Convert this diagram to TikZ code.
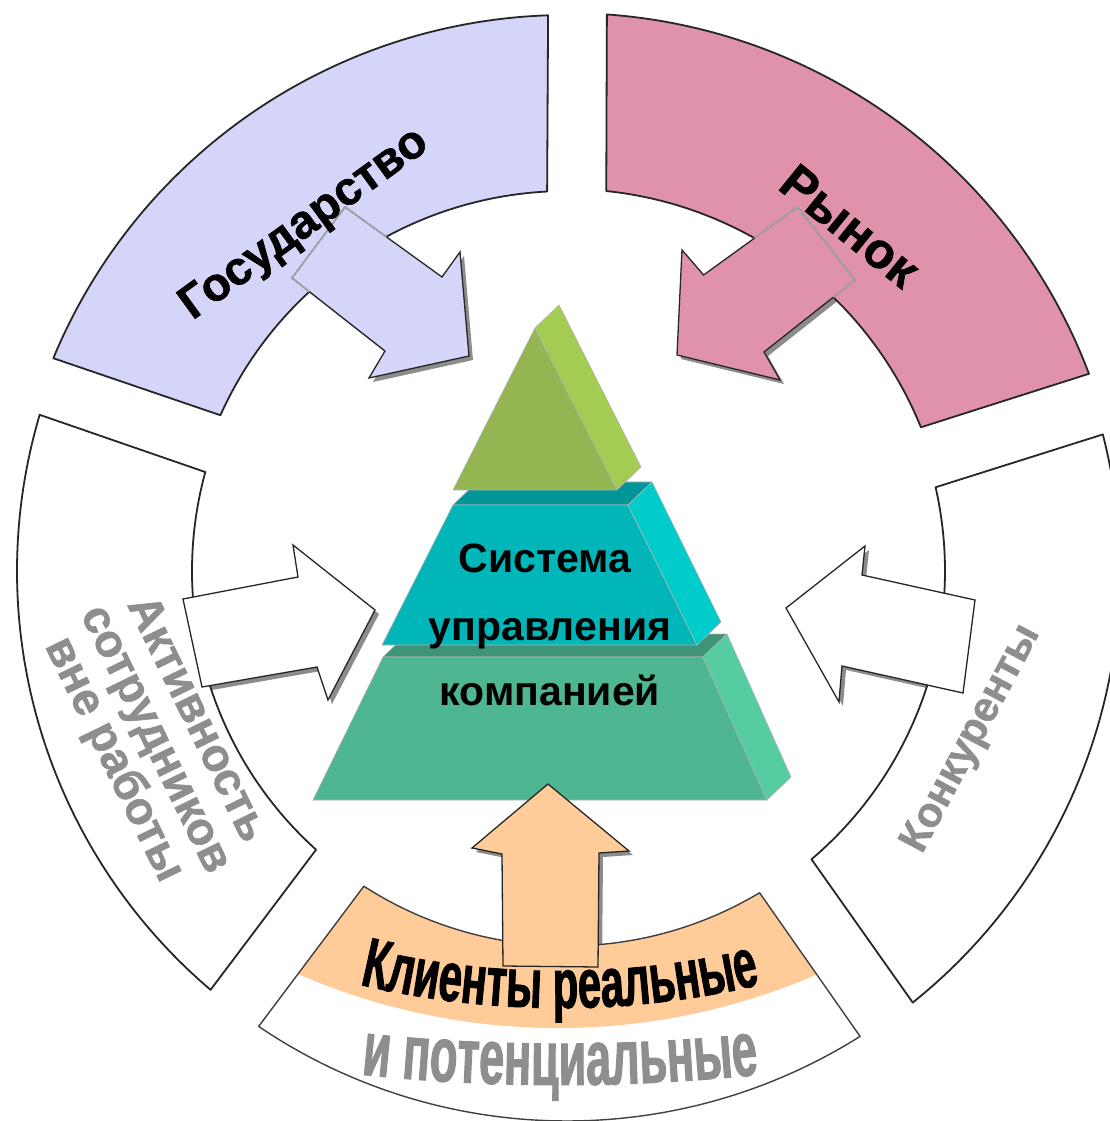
\documentclass[tikz,border=0pt]{standalone}
\usepackage{fontspec}
\usetikzlibrary{decorations.text}
\newfontfamily\lsans{Liberation Sans}
\newfontfamily\lheavy[FakeBold=1.2]{Liberation Sans}
\newfontfamily\narrowone[FakeStretch=0.6,FakeBold=1.2]{Liberation Sans}
\newfontfamily\narrowtwo[FakeStretch=0.58,FakeBold=1.2]{Liberation Sans}
\definecolor{lav}{RGB}{213,213,250}
\definecolor{pinkc}{RGB}{224,146,171}
\definecolor{peach}{RGB}{255,204,153}
\definecolor{txtgray}{RGB}{142,142,142}
\definecolor{shadowc}{RGB}{140,140,140}
\definecolor{gAf}{RGB}{147,182,82}
\definecolor{gAs}{RGB}{163,204,82}
\definecolor{tBf}{RGB}{0,182,185}
\definecolor{tBs}{RGB}{0,204,204}
\definecolor{tBt}{RGB}{0,150,152}
\definecolor{tCf}{RGB}{78,182,145}
\definecolor{tCs}{RGB}{86,205,160}
\definecolor{tCt}{RGB}{62,148,118}
% ring segments
\def\segLav{(91.95:556) arc[start angle=91.95,end angle=157.5,radius=556] -- (155.8:380) arc[start angle=155.8,end angle=93,radius=380] -- cycle}
\def\segPink{(85.9:558) arc[start angle=85.9,end angle=20.7,radius=558] -- (22.1:382) arc[start angle=22.1,end angle=84.1,radius=382] -- cycle}
\def\segKonk{(14.3:553) arc[start angle=14.3,end angle=-51.3,radius=553] -- (-49.7:378) arc[start angle=-49.7,end angle=12.8,radius=378] -- cycle}
\def\segAkt{(163.5:550) arc[start angle=163.5,end angle=229.6,radius=550] -- (228:375) arc[start angle=228,end angle=164.7,radius=375] -- cycle}
\def\segKl{(235.9:550) arc[start angle=235.9,end angle=302.2,radius=550] -- (300.9:375) arc[start angle=300.9,end angle=237.2,radius=375] -- cycle}
% block arrows
\def\arrLav{(-222,364) -- (-125,294) -- (-107,319) -- (-98,215) -- (-198,193) -- (-182,220) -- (-275,293) -- cycle}
\def\arrPink{(230.5,364) -- (136.6,296) -- (115,321) -- (110,216) -- (213,191) -- (197,219) -- (288,291) -- cycle}
\def\arrAkt{(-384,-28) -- (-269,-6) -- (-274,26) -- (-192,-39) -- (-239,-129) -- (-250,-96) -- (-365,-116) -- cycle}
\def\arrKonk{(408,-29) -- (295,-4) -- (298,25) -- (219,-37) -- (272,-131) -- (275,-95) -- (396,-122) -- cycle}
\def\arrKl{(-19,-213) -- (-95,-277) -- (-65,-283) -- (-64,-395) -- (31,-396) -- (32,-282) -- (62,-280) -- cycle}
\begin{document}
\begin{tikzpicture}[x=1pt,y=1pt,
  seg/.style={draw=black!85,line width=1.8,line join=round},
  arr/.style={draw=black!85,line width=1.3,line join=miter},
  shad/.style={fill=shadowc,shift={(4,-4)}},
  face/.style={draw=black!30,line width=0.6,line join=round},
  blacktxt/.style={inner sep=0,text=black},
  graytxt/.style={inner sep=0,text=txtgray,font=\lheavy\bfseries\fontsize{46}{46}\selectfont},
  pyrtxt/.style={inner sep=0,anchor=base,text=black,font=\lsans\bfseries\fontsize{41}{41}\selectfont}]
\useasboundingbox[fill=white] (-567,-550) rectangle (542,571);

% ---------- pyramid ----------
% bottom tier
\fill[face,fill=tCt] (-184,-86) -- (136,-86) -- (160,-63) -- (-160,-63) -- cycle;
\fill[face,fill=tCf] (-184,-86) -- (136,-86) -- (200,-229) -- (-254,-229) -- cycle;
\fill[face,fill=tCs] (136,-86) -- (160,-63) -- (224,-206) -- (200,-229) -- cycle;
% middle tier
\fill[face,fill=tBt] (-114,66) -- (61,66) -- (85,89) -- (-90,89) -- cycle;
\fill[face,fill=tBf] (-114,66) -- (61,66) -- (130,-74) -- (-185,-74) -- cycle;
\fill[face,fill=tBs] (61,66) -- (85,89) -- (154,-51) -- (130,-74) -- cycle;
% top tier
\fill[face,fill=gAf] (-32,243) -- (50,81) -- (-114,81) -- cycle;
\fill[face,fill=gAs] (-32,243) -- (-8,266) -- (74,104) -- (50,81) -- cycle;

% ---------- arrow shadows ----------
\fill[shad] \arrLav;
\fill[shad] \arrPink;
\fill[shad] \arrAkt;
\fill[shad] \arrKonk;
\fill[shad] \arrKl;

% ---------- ring segments ----------
\path[seg,fill=lav] \segLav;
\path[seg,fill=pinkc] \segPink;
\path[seg,fill=white] \segKonk;
\path[seg,fill=white] \segAkt;
\fill[white] \segKl;
\begin{scope}
  \clip (-9,193) circle[radius=650];
  \fill[peach] \segKl;
\end{scope}
\draw[seg,draw=black!75,line width=1.4] \segKl;

% ---------- arrows ----------
\path[arr,fill=lav] \arrLav;
\begin{scope}
  \clip \segLav;
  \draw[draw=black!35,line width=1.6] \arrLav;
\end{scope}
\path[arr,fill=pinkc] \arrPink;
\begin{scope}
  \clip \segPink;
  \draw[draw=black!35,line width=1.6] \arrPink;
\end{scope}
\path[arr,fill=white] \arrAkt;
\path[arr,fill=white] \arrKonk;
\path[arr,fill=peach] \arrKl;

% ---------- texts ----------
\node[blacktxt,font=\lheavy\bfseries\fontsize{47}{47}\selectfont,rotate=36] (gos) at (-262,346) {Государство};
\node[blacktxt,font=\lheavy\bfseries\fontsize{50}{50}\selectfont,rotate=-39] (ryn) at (283,345) {Рынок};
\node[graytxt,align=center,rotate=-64] (akt) at (-413,-169) {Активность\\сотрудников\\вне работы};
\node[graytxt,font=\lheavy\bfseries\fontsize{42}{42}\selectfont,rotate=62] (konk) at (405,-168) {Конкуренты};

\node[pyrtxt] (sys1) at (-22,-2) {Система};
\node[pyrtxt] (sys2) at (-17,-69) {управления};
\node[pyrtxt] (sys3) at (-17,-134) {компанией};

\path[decorate,decoration={text along path,text align=center,text color=black,
  text={|\narrowone\bfseries\fontsize{70}{70}\selectfont|Клиенты реальные}}]
  (-7,433) ++(250:870) arc[start angle=250,end angle=290,radius=870];
\path[decorate,decoration={text along path,text align=center,text color=txtgray,
  text={|\narrowtwo\bfseries\fontsize{78}{78}\selectfont|и потенциальные}}]
  (-7,1392) ++(262:1906) arc[start angle=262,end angle=278,radius=1906];
\end{tikzpicture}
\end{document}
